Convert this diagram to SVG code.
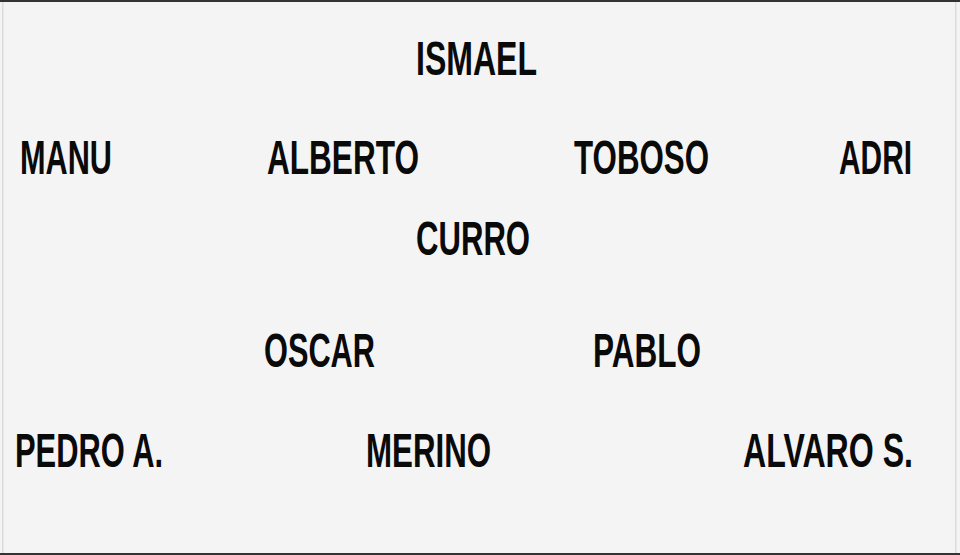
<svg xmlns="http://www.w3.org/2000/svg" width="960" height="555" viewBox="0 0 960 555">
<style>
.n{font-family:"Liberation Sans",Arial,sans-serif;font-weight:bold;font-size:48px;fill:#0a0a0a}
</style>
<rect x="0" y="0" width="960" height="555" fill="#f4f4f4"/>
<rect x="0" y="0" width="960" height="2" fill="#333"/>
<rect x="0" y="553" width="960" height="2" fill="#333"/>
<rect x="2" y="2" width="1.5" height="551" fill="#dcdcdc"/>
<rect x="955" y="2" width="1.5" height="551" fill="#dcdcdc"/>
<g id="ismael"><text class="n" transform="translate(416,75) scale(0.7,1)" textLength="172.9" lengthAdjust="spacingAndGlyphs">ISMAEL</text></g>
<g id="manu"><text class="n" transform="translate(20,174) scale(0.7,1)" textLength="131.4" lengthAdjust="spacingAndGlyphs">MANU</text></g>
<g id="alberto"><text class="n" transform="translate(267,174) scale(0.7,1)" textLength="217.1" lengthAdjust="spacingAndGlyphs">ALBERTO</text></g>
<g id="toboso"><text class="n" transform="translate(574,174) scale(0.7,1)" textLength="192.9" lengthAdjust="spacingAndGlyphs">TOBOSO</text></g>
<g id="adri"><text class="n" transform="translate(839,174) scale(0.7,1)" textLength="104.3" lengthAdjust="spacingAndGlyphs">ADRI</text></g>
<g id="curro"><text class="n" transform="translate(416,255) scale(0.7,1)" textLength="162.9" lengthAdjust="spacingAndGlyphs">CURRO</text></g>
<g id="oscar"><text class="n" transform="translate(264,367) scale(0.7,1)" textLength="158.6" lengthAdjust="spacingAndGlyphs">OSCAR</text></g>
<g id="pablo"><text class="n" transform="translate(593,367) scale(0.7,1)" textLength="154.3" lengthAdjust="spacingAndGlyphs">PABLO</text></g>
<g id="pedro"><text class="n" transform="translate(15,467) scale(0.7,1)" textLength="211.4" lengthAdjust="spacingAndGlyphs">PEDRO A.</text></g>
<g id="merino"><text class="n" transform="translate(366,467) scale(0.7,1)" textLength="178.6" lengthAdjust="spacingAndGlyphs">MERINO</text></g>
<g id="alvaro"><text class="n" transform="translate(743,467) scale(0.7,1)" textLength="242.9" lengthAdjust="spacingAndGlyphs">ALVARO S.</text></g>
<g id="connectors"></g>
</svg>
